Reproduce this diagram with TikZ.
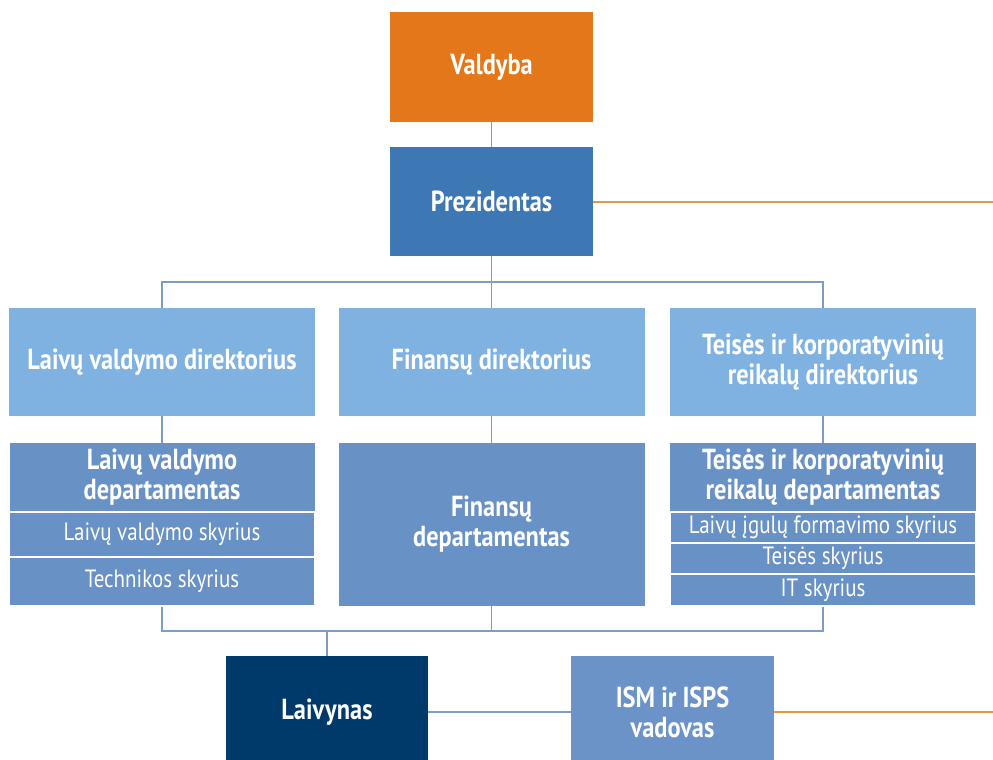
\documentclass[tikz,border=0pt]{standalone}
\usepackage{fontspec}
\setmainfont[FakeStretch=0.84]{PT Sans}
\definecolor{cOrange}{HTML}{E37719}
\definecolor{cPrez}{HTML}{3E78B4}
\definecolor{cRowTwo}{HTML}{7FB2E0}
\definecolor{cRowThree}{HTML}{6891C6}
\definecolor{cLaiv}{HTML}{003A6B}
\definecolor{cIsm}{HTML}{6B93C8}
\definecolor{cLine}{HTML}{7C9DC8}
\definecolor{cOLine}{HTML}{E8954A}
\tikzset{
  orgbox/.style={draw=none, inner sep=0pt, text=white, align=center,
    font=\bfseries\fontsize{29}{30}\selectfont},
  subbox/.style={draw=white, line width=1.8pt, inner sep=0pt, text=white, align=center,
    fill=cRowThree, font=\fontsize{25}{26}\selectfont},
  conn/.style={draw=cLine, line width=1.8pt},
  oconn/.style={draw=cOLine, line width=2pt}
}
\begin{document}
\begin{tikzpicture}[x=1pt,y=-1pt]
\useasboundingbox (0,0) rectangle (993,760);
\fill[white] (0,0) rectangle (993,760);
\begin{scope}
\clip (0,0) rectangle (993,760);
% top
\node[orgbox, fill=cOrange, minimum width=203pt, minimum height=110pt] (vald) at (491.5,67) {Valdyba};
\node[orgbox, fill=cPrez, minimum width=203pt, minimum height=109pt] (prez) at (491.5,201.5) {Prezidentas};
% row 2
\node[orgbox, fill=cRowTwo, minimum width=306pt, minimum height=108pt] (dl) at (162,362) {Laivų valdymo direktorius};
\node[orgbox, fill=cRowTwo, minimum width=306pt, minimum height=108pt] (dm) at (491.5,362) {Finansų direktorius};
\node[orgbox, fill=cRowTwo, minimum width=306pt, minimum height=108pt] (dr) at (823,362) {Teisės ir korporatyvinių\\reikalų direktorius};
% row 3 left
\node[orgbox, fill=cRowThree, minimum width=305pt, minimum height=69pt] (pl) at (162,477.5) {Laivų valdymo\\departamentas};
\node[subbox, minimum width=305pt, minimum height=45pt] (pl1) at (162,534.5) {Laivų valdymo skyrius};
\node[subbox, minimum width=305pt, minimum height=49pt] (pl2) at (162,581.5) {Technikos skyrius};
% row 3 middle
\node[orgbox, fill=cRowThree, minimum width=306pt, minimum height=163pt] (pm) at (491.5,524.5) {Finansų\\departamentas};
% row 3 right
\node[orgbox, fill=cRowThree, minimum width=306pt, minimum height=69pt] (pr) at (823,477.5) {Teisės ir korporatyvinių\\reikalų departamentas};
\node[subbox, minimum width=306pt, minimum height=31pt] (pr1) at (823,527.5) {Laivų įgulų formavimo skyrius};
\node[subbox, minimum width=306pt, minimum height=31pt] (pr2) at (823,558.5) {Teisės skyrius};
\node[subbox, minimum width=306pt, minimum height=32pt] (pr3) at (823,590) {IT skyrius};
% bottom
\node[orgbox, fill=cLaiv, minimum width=202pt, minimum height=112pt] (laiv) at (327,712) {Laivynas};
\node[orgbox, fill=cIsm, minimum width=203pt, minimum height=112pt] (ism) at (672.5,712) {ISM ir ISPS\\vadovas};
% connectors
\coordinate (busT) at (491.5,282);
\coordinate (busB) at (491.5,631);
\coordinate (edgeP) at (993,201.5);
\coordinate (edgeI) at (993,712);
\draw[conn] (vald.south) -- (prez.north);
\draw[conn] (prez.south) -- (dm.north);
\draw[conn] (dl.north) |- (busT) -| (dr.north);
\draw[conn] (dl.south) -- (pl.north);
\draw[conn] (dm.south) -- (pm.north);
\draw[conn] (dr.south) -- (pr.north);
\draw[conn] (pl2.south) |- (busB) -| (pr3.south);
\draw[conn] (pm.south) -- (busB);
\draw[conn] (laiv.north) -- (laiv.north |- busB);
\draw[conn] (laiv.east) -- (ism.west);
\draw[oconn] (prez.east) -- (edgeP);
\draw[oconn] (ism.east) -- (edgeI);
\end{scope}
\end{tikzpicture}
\end{document}
